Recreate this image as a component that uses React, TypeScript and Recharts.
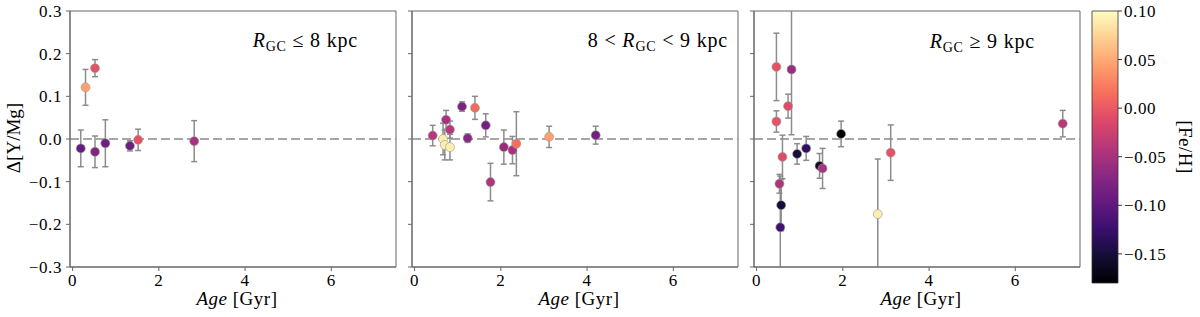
import React from 'react';
import {
  ScatterChart,
  Scatter,
  ComposedChart,
  XAxis,
  YAxis,
  ErrorBar,
  ReferenceLine,
  ReferenceArea,
} from 'recharts';

// R_GC <= 8 kpc
const ages1 = [0.19, 0.3, 0.52, 0.52, 0.76, 1.33, 1.52, 2.82];
const dY1 = [-0.022, 0.121, 0.166, -0.03, -0.01, -0.016, -0.002, -0.005];
const err1 = [0.043, 0.042, 0.02, 0.037, 0.055, 0.012, 0.025, 0.048];
const feh1 = [-0.095, 0.045, -0.005, -0.075, -0.088, -0.088, -0.005, -0.05];

// 8 < R_GC < 9 kpc
const ages2 = [0.42, 0.66, 0.7, 0.82, 0.73, 0.82, 1.1, 1.23, 1.4, 1.65, 1.76, 2.07, 2.27, 2.36, 3.12, 4.2];
const dY2 = [0.008, 0.0, -0.014, -0.019, 0.045, 0.022, 0.076, 0.002, 0.073, 0.032, -0.101, -0.019, -0.026, -0.011, 0.005, 0.009];
const err2 = [0.024, 0.037, 0.035, 0.03, 0.022, 0.02, 0.011, 0.01, 0.027, 0.027, 0.044, 0.04, 0.032, 0.075, 0.025, 0.021];
const feh2 = [-0.04, 0.09, 0.09, 0.09, -0.05, -0.04, -0.08, -0.07, 0.012, -0.085, -0.045, -0.06, -0.05, 0.015, 0.045, -0.085];

// R_GC >= 9 kpc
const ages3 = [0.46, 0.46, 0.73, 0.81, 0.6, 0.53, 0.57, 0.55, 0.94, 1.15, 1.46, 1.53, 1.96, 2.81, 3.11, 7.1];
const dY3 = [0.169, 0.041, 0.077, 0.163, -0.042, -0.105, -0.155, -0.207, -0.035, -0.022, -0.063, -0.069, 0.012, -0.176, -0.032, 0.036];
const err3 = [0.079, 0.025, 0.028, 0.153, 0.051, 0.022, 0.06, 0.12, 0.024, 0.028, 0.029, 0.047, 0.03, 0.129, 0.065, 0.031];
const feh3 = [-0.005, -0.005, -0.01, -0.06, -0.01, -0.045, -0.15, -0.12, -0.15, -0.13, -0.16, -0.05, -0.18, 0.09, -0.005, -0.04];

const xTicks = [0, 2, 4, 6];
const yTicks = [-0.3, -0.2, -0.1, 0, 0.1, 0.2, 0.3];
const cbTicks = [-0.15, -0.1, -0.05, 0, 0.05, 0.1];

const X_DOMAIN: [number, number] = [-0.06, 7.5];
const Y_DOMAIN: [number, number] = [-0.3, 0.3];
const C_DOMAIN: [number, number] = [-0.18, 0.1];

const MAGMA = ['#000004', '#140e36', '#3b0f70', '#641a80', '#8c2981', '#b73779', '#de4968', '#f7705c', '#fe9f6d', '#fecf92', '#fcfdbf'];

const FONT = '"Liberation Serif", "DejaVu Serif", serif';
const AXIS = '#666';
const TICK = { fill: '#000', fontSize: 17, fontFamily: FONT, letterSpacing: 0.6 };

// plot rectangle inside each 400x317 panel chart (used to clip error bars)
const PLOT = { x: 70, y: 11, w: 326, h: 256 };

function hex(c: string) {
  return [1, 3, 5].map((i) => parseInt(c.slice(i, i + 2), 16));
}

function magma(v: number) {
  let t = (v - C_DOMAIN[0]) / (C_DOMAIN[1] - C_DOMAIN[0]);
  t = Math.max(0, Math.min(1, t)) * (MAGMA.length - 1);
  const i = Math.min(Math.floor(t), MAGMA.length - 2);
  const f = t - i;
  const a = hex(MAGMA[i]);
  const b = hex(MAGMA[i + 1]);
  const rgb = a.map((x, k) => Math.round(x + (b[k] - x) * f));
  return `rgb(${rgb.join(',')})`;
}

function rows(age: number[], dy: number[], err: number[], feh: number[]) {
  return age.map((a, i) => ({ age: a, dy: dy[i], err: err[i], feh: feh[i] }));
}

const fmtMinus = (v: number, d: number) => (v < 0 ? '\u2212' : '') + Math.abs(v).toFixed(d);

const Dot = (props: any) => {
  const { cx, cy, payload } = props;
  if (cx == null || cy == null) return null;
  return <circle cx={cx} cy={cy} r={4.5} fill={magma(payload.feh)} stroke="#9a9a9a" strokeWidth={0.6} />;
};

function Panel({ data, left, labels }: { data: any[]; left: number; labels: boolean }) {
  return (
    <div className="panel" style={{ position: 'absolute', left, top: 0 }}>
      <ScatterChart width={400} height={317} margin={{ top: PLOT.y, right: 4, bottom: 0, left: 0 }}>
        <XAxis
          type="number"
          dataKey="age"
          domain={X_DOMAIN}
          ticks={xTicks}
          allowDataOverflow
          height={50}
          tickSize={4}
          tickMargin={3}
          stroke={AXIS}
          tick={TICK}
        />
        <YAxis
          type="number"
          dataKey="dy"
          domain={Y_DOMAIN}
          ticks={yTicks}
          allowDataOverflow
          width={PLOT.x}
          tickSize={4}
          tickMargin={4}
          stroke={AXIS}
          tick={TICK}
          tickFormatter={(v: number) => (labels ? fmtMinus(v, 1) : '')}
        />
        <ReferenceArea x1={X_DOMAIN[0]} x2={X_DOMAIN[1]} y1={Y_DOMAIN[0]} y2={Y_DOMAIN[1]} fill="none" stroke={AXIS} strokeWidth={1} />
        <ReferenceLine y={0} stroke="#8a8a8a" strokeWidth={1.5} strokeDasharray="9 4" />
        <Scatter data={data} isAnimationActive={false} shape={Dot}>
          <ErrorBar dataKey="err" direction="y" width={3} stroke="#8c8c8c" strokeWidth={1.5} />
        </Scatter>
      </ScatterChart>
    </div>
  );
}

function ColorBar() {
  const stops = MAGMA.map((c, i) => (
    <stop key={i} offset={`${(i / (MAGMA.length - 1)) * 100}%`} stopColor={c} />
  ));
  return (
    <div style={{ position: 'absolute', left: 1000, top: 0 }}>
      <ComposedChart width={200} height={317} data={[{ x: 0 }, { x: 1 }]} margin={{ top: 11, right: 0, bottom: 34, left: 92 }}>
        <defs>
          <linearGradient id="magma" x1="0" y1="1" x2="0" y2="0">
            {stops}
          </linearGradient>
        </defs>
        <XAxis type="number" dataKey="x" domain={[0, 1]} hide />
        <YAxis
          type="number"
          orientation="right"
          domain={C_DOMAIN}
          ticks={cbTicks}
          allowDataOverflow
          width={82}
          tickSize={4}
          tickMargin={2}
          axisLine={false}
          stroke="#333"
          tick={TICK}
          tickFormatter={(v: number) => fmtMinus(v, 2)}
        />
        <ReferenceArea x1={0} x2={1} y1={C_DOMAIN[0]} y2={C_DOMAIN[1]} fill="url(#magma)" fillOpacity={1} stroke="#333" strokeWidth={0.8} />
      </ComposedChart>
    </div>
  );
}

function Title({ x, y, pre, post }: { x: number; y: number; pre?: string; post: string }) {
  return (
    <text x={x} y={y} textAnchor="end" fontSize={20} fontFamily={FONT} letterSpacing={0.8}>
      {pre ? <tspan>{pre}</tspan> : null}
      <tspan fontStyle="italic">R</tspan>
      <tspan fontSize={14} dy={4}>GC</tspan>
      <tspan dy={-4}>{post}</tspan>
    </text>
  );
}

export default function App() {
  return (
    <div style={{ position: 'absolute', left: 0, top: 0, width: 1200, height: 317, background: '#fff', fontFamily: FONT }}>
      <style>{`.panel .recharts-errorBars, .panel .recharts-errorBar { clip-path: url(#plotClip); }`}</style>
      <svg width={0} height={0} style={{ position: 'absolute' }}>
        <defs>
          <clipPath id="plotClip" clipPathUnits="userSpaceOnUse">
            <rect x={PLOT.x} y={PLOT.y} width={PLOT.w} height={PLOT.h} />
          </clipPath>
        </defs>
      </svg>
      <Panel data={rows(ages1, dY1, err1, feh1)} left={0} labels />
      <Panel data={rows(ages2, dY2, err2, feh2)} left={342} labels={false} />
      <Panel data={rows(ages3, dY3, err3, feh3)} left={684} labels={false} />
      <ColorBar />
      <svg width={1200} height={317} style={{ position: 'absolute', left: 0, top: 0, pointerEvents: 'none' }}>
        <text transform="translate(20,138) rotate(-90)" textAnchor="middle" fontSize={19} fontFamily={FONT}>
          {'\u0394[Y/Mg]'}
        </text>
        {[237, 579, 921].map((cx) => (
          <text key={cx} x={cx} y={305} textAnchor="middle" fontSize={19} fontFamily={FONT} letterSpacing={0.5}>
            <tspan fontStyle="italic">Age</tspan>
            <tspan> [Gyr]</tspan>
          </text>
        ))}
        <Title x={358} y={47} post={' \u2264 8 kpc'} />
        <Title x={728} y={47} pre={'8 < '} post={' < 9 kpc'} />
        <Title x={1035} y={48} post={' \u2265 9 kpc'} />
        <text transform="translate(1179,147) rotate(90)" textAnchor="middle" fontSize={19} fontFamily={FONT} letterSpacing={0.5}>
          [Fe/H]
        </text>
      </svg>
    </div>
  );
}
